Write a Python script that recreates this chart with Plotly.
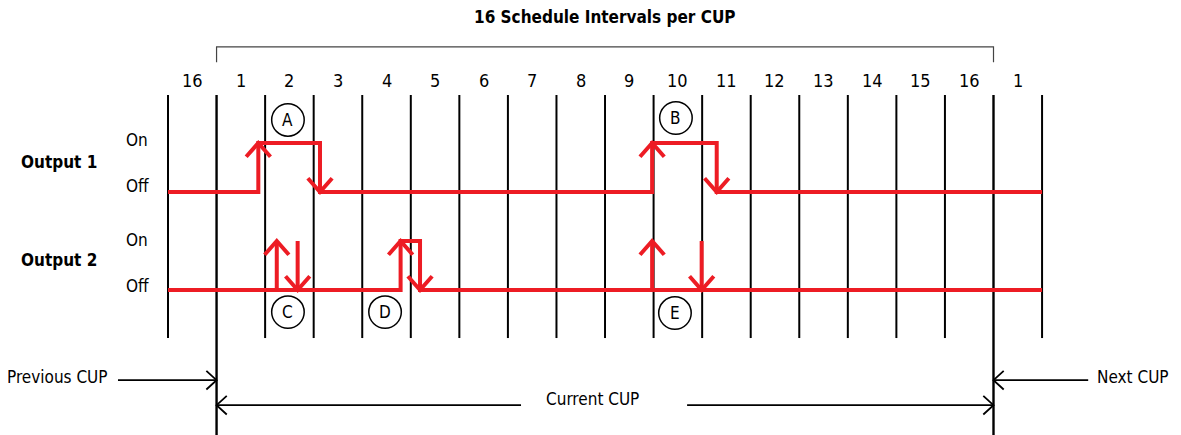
import plotly.graph_objects as go

# ---------------- data ----------------
interval_labels = ["16", "1", "2", "3", "4", "5", "6", "7", "8", "9",
                   "10", "11", "12", "13", "14", "15", "16", "1"]
divider_positions = list(range(19))          # interval boundaries (in interval units)
cup_start, cup_end = 1, 17                   # current CUP boundaries

# signal levels
out2_off, out2_on, out1_off, out1_on = 0, 1, 2, 3

# Output 1 pulses: (rise time, fall time) in interval units
out1_pulses = [(1.86, 3.13), (9.97, 11.30)]
# Output 2 pulse: (rise, fall)
out2_pulses = [(4.79, 5.19)]
# Output 2 separate strobe arrows (not connected)
out2_up_arrows = [2.24, 9.97]
out2_down_arrows = [2.67, 10.99]

# circled event markers: letter, x, y
event_letters = ["A", "B", "C", "D", "E"]
event_x = [2.47, 10.46, 2.47, 4.47, 10.44]
event_y = [3.47, 3.51, -0.45, -0.45, -0.47]

# ---------------- styling ----------------
FONT = "DejaVu Sans Condensed, Liberation Sans Narrow, sans-serif"
RED = "#ED1C24"
AX = 0.25   # arrowhead half-width (x units)
AY = 0.28   # arrowhead length (y units)
HX = 0.21   # horizontal arrowhead length
HY = 0.19   # horizontal arrowhead half-height

fig = go.Figure()

def add_line(xs, ys, color="black", width=2):
    fig.add_trace(go.Scatter(x=xs, y=ys, mode="lines",
                             line=dict(color=color, width=width),
                             hoverinfo="skip", showlegend=False))

# divider lines
grid_top, grid_bot, page_bot = 3.98, -0.98, -3.2
xs, ys = [], []
for k in divider_positions:
    if k in (cup_start, cup_end):
        continue
    xs += [k, k, None]
    ys += [grid_top, grid_bot, None]
add_line(xs, ys, "black", 2)
xs, ys = [], []
for k in (cup_start, cup_end):
    xs += [k, k, None]
    ys += [grid_top, page_bot, None]
add_line(xs, ys, "black", 2.4)

# interval labels
for i, lab in enumerate(interval_labels):
    fig.add_annotation(x=i + 0.5, y=4.27, text=lab, showarrow=False,
                       font=dict(family=FONT, size=18, color="black"))

# bracket
add_line([cup_start, cup_start, cup_end, cup_end], [4.65, 4.96, 4.96, 4.65], "#444", 1.2)
fig.add_annotation(x=(cup_start + cup_end) / 2, y=5.57,
                   text="<b>16 Schedule Intervals per CUP</b>", showarrow=False,
                   font=dict(family=FONT, size=17, color="black"))

# ---- signals ----
def up_head(x, y):
    return [x - AX, x, x + AX, None], [y - AY, y, y - AY, None]

def down_head(x, y):
    return [x - AX, x, x + AX, None], [y + AY, y, y + AY, None]

# Output 1 path
px, py = [divider_positions[0]], [out1_off]
for r, f in out1_pulses:
    px += [r, r, f, f]
    py += [out1_off, out1_on, out1_on, out1_off]
px += [divider_positions[-1]]
py += [out1_off]
add_line(px, py, RED, 4)

# Output 2 path
px, py = [divider_positions[0]], [out2_off]
for r, f in out2_pulses:
    px += [r, r, f, f]
    py += [out2_off, out2_on, out2_on, out2_off]
px += [divider_positions[-1]]
py += [out2_off]
add_line(px, py, RED, 4)

# Output 2 strobe arrow shafts
xs, ys = [], []
for x in out2_up_arrows + out2_down_arrows:
    xs += [x, x, None]
    ys += [out2_off, out2_on, None]
add_line(xs, ys, RED, 4)

# arrowheads
hx, hy = [], []
for r, f in out1_pulses:
    a, b = up_head(r, out1_on); hx += a; hy += b
    a, b = down_head(f, out1_off); hx += a; hy += b
for r, f in out2_pulses:
    a, b = up_head(r, out2_on); hx += a; hy += b
    a, b = down_head(f, out2_off); hx += a; hy += b
for x in out2_up_arrows:
    a, b = up_head(x, out2_on); hx += a; hy += b
for x in out2_down_arrows:
    a, b = down_head(x, out2_off); hx += a; hy += b
add_line(hx, hy, RED, 4)

# circled letters
for lab, cx, cy in zip(event_letters, event_x, event_y):
    fig.add_shape(type="circle", xref="x", yref="y",
                  x0=cx - 0.335, x1=cx + 0.335, y0=cy - 0.33, y1=cy + 0.33,
                  line=dict(color="black", width=1.5), fillcolor="rgba(0,0,0,0)")
    fig.add_annotation(x=cx, y=cy, text=lab, showarrow=False,
                       font=dict(family=FONT, size=17, color="black"))

# row labels
row_names = ["<b>Output 1</b>", "<b>Output 2</b>"]
row_y = [2.61, 0.61]
for name, y in zip(row_names, row_y):
    fig.add_annotation(x=-2.245, y=y, text=name, showarrow=False,
                       font=dict(family=FONT, size=17, color="black"))
for lvl_y, lab in [(3.06, "On"), (2.12, "Off"), (1.02, "On"), (0.08, "Off")]:
    fig.add_annotation(x=-0.63, y=lvl_y, text=lab, showarrow=False,
                       font=dict(family=FONT, size=17, color="black"))

# ---- CUP arrows at bottom ----
prev_y, cur_y = -1.84, -2.35
# previous CUP -> right arrow
add_line([-1.03, cup_start, None, cup_start - HX, cup_start, cup_start - HX],
         [prev_y, prev_y, None, prev_y + HY, prev_y, prev_y - HY], "black", 1.8)
fig.add_annotation(x=-2.27, y=prev_y + 0.06, text="Previous CUP", showarrow=False,
                   font=dict(family=FONT, size=17, color="black"))
# next CUP <- left arrow
add_line([18.95, cup_end, None, cup_end + HX, cup_end, cup_end + HX],
         [prev_y, prev_y, None, prev_y + HY, prev_y, prev_y - HY], "black", 1.8)
fig.add_annotation(x=19.87, y=prev_y + 0.06, text="Next CUP", showarrow=False,
                   font=dict(family=FONT, size=17, color="black"))
# current CUP double arrow with gap
add_line([cup_start, 7.27, None, 10.69, cup_end, None,
          cup_start + HX, cup_start, cup_start + HX, None,
          cup_end - HX, cup_end, cup_end - HX],
         [cur_y, cur_y, None, cur_y, cur_y, None,
          cur_y + HY, cur_y, cur_y - HY, None,
          cur_y + HY, cur_y, cur_y - HY], "black", 1.8)
fig.add_annotation(x=8.75, y=cur_y + 0.12, text="Current CUP", showarrow=False,
                   font=dict(family=FONT, size=17, color="black"))

# the page body adds an 8px offset; ranges compensate so marks land where the reference has them
fig.update_layout(
    width=1181, height=435,
    margin=dict(l=0, r=0, t=0, b=0),
    paper_bgcolor="white", plot_bgcolor="white",
    xaxis=dict(range=[-3.295, 21.026], visible=False, fixedrange=True),
    yaxis=dict(range=[-3.122, 5.755], visible=False, fixedrange=True),
    showlegend=False,
)

fig.write_html("out.html")
